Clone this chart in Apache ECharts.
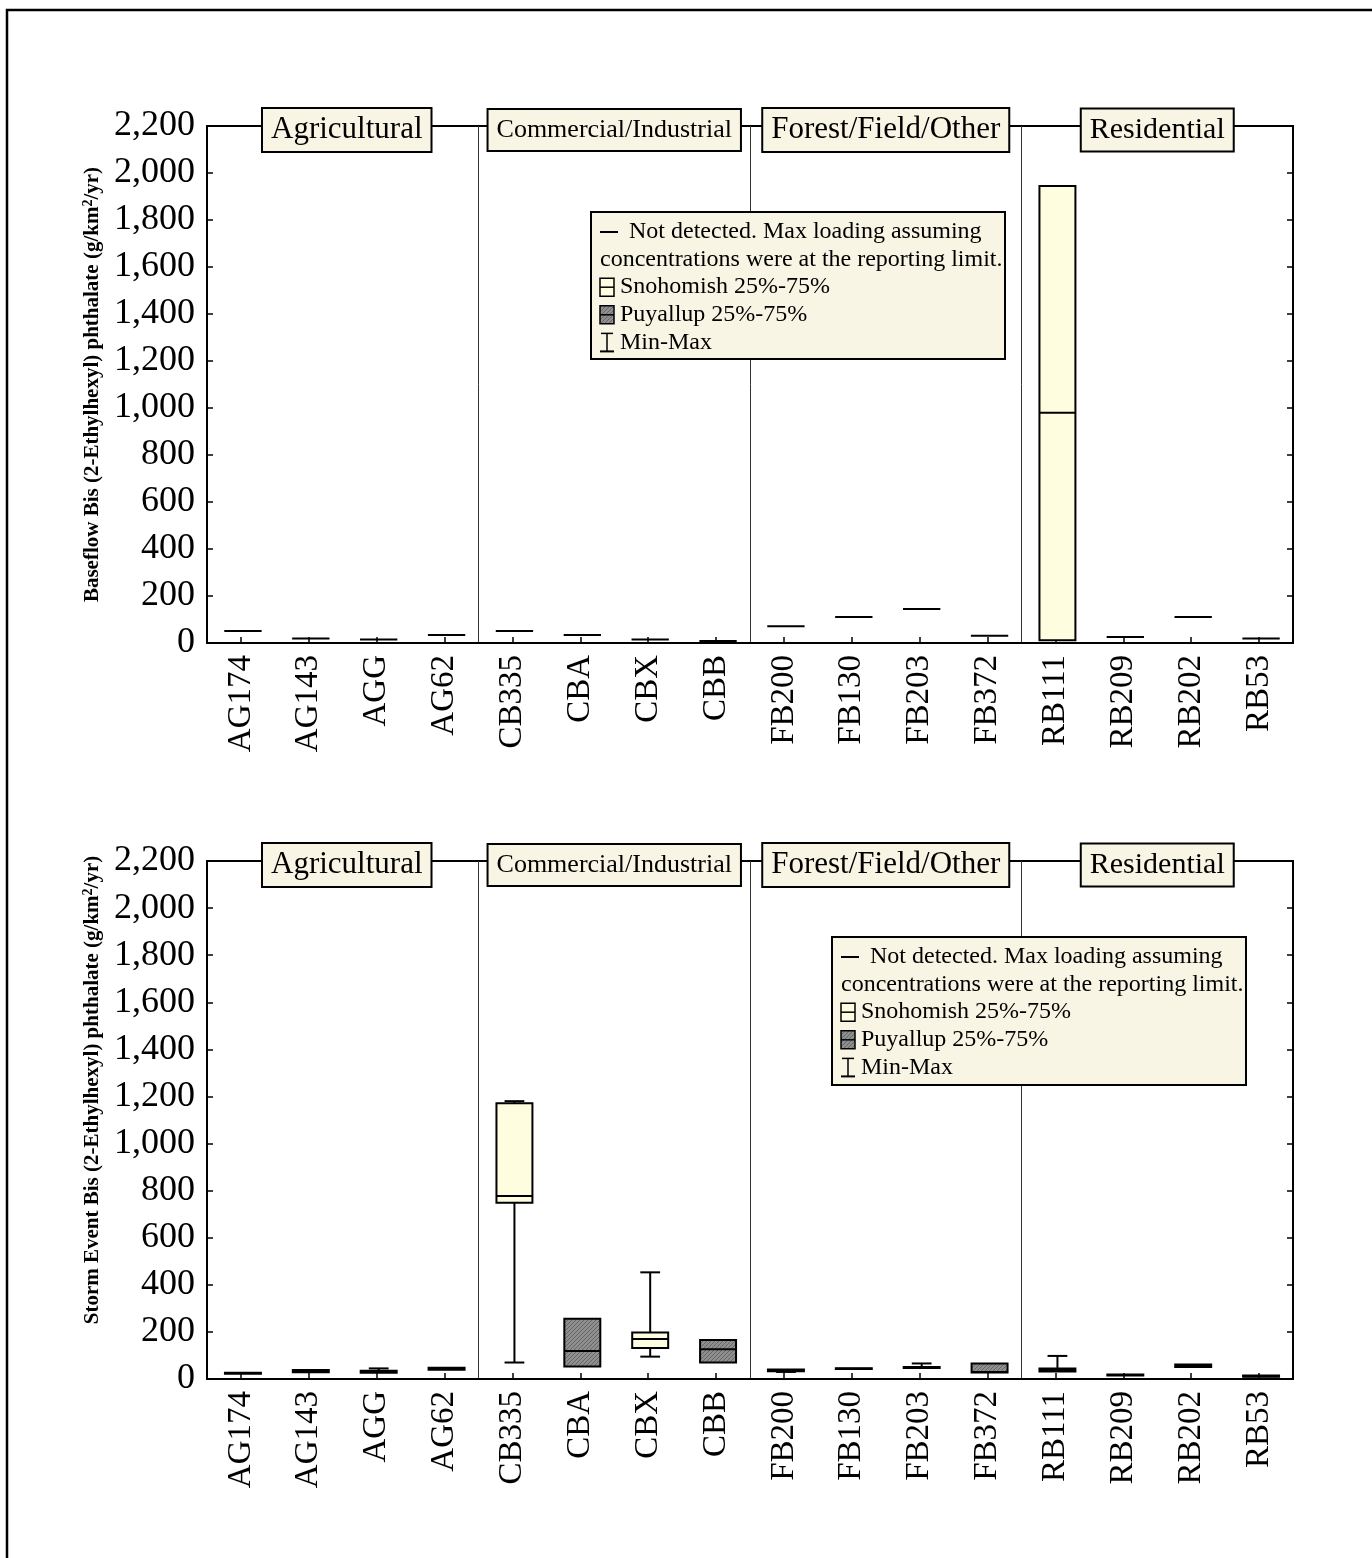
<!DOCTYPE html>
<html>
<head>
<meta charset="utf-8">
<script src="https://cdn.jsdelivr.net/npm/echarts@6/dist/echarts.min.js"></script>
<style>html,body{margin:0;padding:0;background:#fff}#c{width:1372px;height:1558px}</style>
</head>
<body>
<div id="c"></div>
<script>
// ---------- DATA ----------
const categories = ['AG174','AG143','AGG','AG62','CB335','CBA','CBX','CBB','FB200','FB130','FB203','FB372','RB111','RB209','RB202','RB53'];
const groups = ['Agricultural','Commercial/Industrial','Forest/Field/Other','Residential'];
const yTicks = [0,200,400,600,800,1000,1200,1400,1600,1800,2000,2200];

// Baseflow (top panel)
const baseNotDetected = [51,19,15,34,51,34,15,8,71,111,145,31,null,26,111,19];
const baseMin    = [null,null,null,null,null,null,null,null,null,null,null,null,12,null,null,null];
const baseQ1     = [null,null,null,null,null,null,null,null,null,null,null,null,12,null,null,null];
const baseMedian = [null,null,null,null,null,null,null,null,null,null,null,null,980,null,null,null];
const baseQ3     = [null,null,null,null,null,null,null,null,null,null,null,null,1945,null,null,null];
const baseMax    = [null,null,null,null,null,null,null,null,null,null,null,null,1945,null,null,null];
const baseBasin  = ['S','S','S','S','S','S','S','S','S','S','S','S','S','S','S','S'];

// Storm event (bottom panel)
const stormMin    = [22,28,27,38,70,53,95,70,30,42,45,28,30,15,50,9];
const stormQ1     = [22,29,27,39,749,53,132,70,33,42,47,28,32,15,51,10];
const stormMedian = [25,33,31,43,777,119,170,126,36,44,49,30,38,17,56,12];
const stormQ3     = [27,38,35,48,1171,256,198,166,40,46,51,66,45,19,62,15];
const stormMax    = [27,39,45,49,1180,256,453,166,40,46,66,66,98,19,62,15];
const stormBasin  = ['S','S','S','S','S','P','S','P','S','S','S','P','S','S','S','S'];

// ---------- LAYOUT ----------
const GL = 207, GW = 1086;
const TOP1 = 126, H1 = 517;
const TOP2 = 861, H2 = 518;
const SERIF = '"Liberation Serif", "Times New Roman", serif';
const SNO = '#FFFDE0';
const BEIGE = '#F8F5E4';

// hatched pattern for Puyallup
const pc = document.createElement('canvas');
pc.width = 4; pc.height = 4;
const pctx = pc.getContext('2d');
pctx.fillStyle = '#8f8f8f'; pctx.fillRect(0,0,4,4);
pctx.strokeStyle = '#666'; pctx.lineWidth = 1;
pctx.beginPath(); pctx.moveTo(0,4); pctx.lineTo(4,0); pctx.stroke();
pctx.beginPath(); pctx.moveTo(-1,1); pctx.lineTo(1,-1); pctx.stroke();
pctx.beginPath(); pctx.moveTo(3,5); pctx.lineTo(5,3); pctx.stroke();
const PUY = { image: pc, repeat: 'repeat' };

function boxData(mn,q1,md,q3,mx,basin){
  const out=[];
  for(let i=0;i<categories.length;i++){
    if(q1[i]==null) continue;
    out.push([i,mn[i],q1[i],md[i],q3[i],mx[i], basin[i]==='P'?1:0]);
  }
  return out;
}
function ndData(arr){
  const out=[];
  arr.forEach((v,i)=>{ if(v!=null) out.push([i,v]); });
  return out;
}
function renderBox(params, api){
  const i=api.value(0);
  const pMin=api.coord([i,api.value(1)]);
  const pQ1=api.coord([i,api.value(2)]);
  const pMd=api.coord([i,api.value(3)]);
  const pQ3=api.coord([i,api.value(4)]);
  const pMax=api.coord([i,api.value(5)]);
  const puy=api.value(6)===1;
  const w=api.size([1,0])[0]*0.53;
  const cw=w*0.55;
  const x=pQ1[0]+2;
  const ls={stroke:'#000',lineWidth:2};
  const ch=[];
  if(pMax[1]<pQ3[1]-0.5){
    ch.push({type:'line',shape:{x1:x,y1:pMax[1],x2:x,y2:pQ3[1]},style:ls});
    ch.push({type:'line',shape:{x1:x-cw/2,y1:pMax[1],x2:x+cw/2,y2:pMax[1]},style:ls});
  }
  if(pMin[1]>pQ1[1]+0.5){
    ch.push({type:'line',shape:{x1:x,y1:pQ1[1],x2:x,y2:pMin[1]},style:ls});
    ch.push({type:'line',shape:{x1:x-cw/2,y1:pMin[1],x2:x+cw/2,y2:pMin[1]},style:ls});
  }
  ch.push({type:'rect',shape:{x:x-w/2,y:pQ3[1],width:w,height:pQ1[1]-pQ3[1]},
    style:{fill:puy?PUY:SNO,stroke:'#000',lineWidth:2}});
  ch.push({type:'line',shape:{x1:x-w/2,y1:pMd[1],x2:x+w/2,y2:pMd[1]},style:ls});
  return {type:'group',children:ch};
}
function renderND(params, api){
  const p=api.coord([api.value(0),api.value(1)]);
  const w=api.size([1,0])[0]*0.55;
  const x=p[0]+2;
  return {type:'line',shape:{x1:x-w/2,y1:p[1],x2:x+w/2,y2:p[1]},style:{stroke:'#000',lineWidth:2}};
}

function xAxisFor(gi){
  return {
    type:'category', gridIndex:gi, data:categories, boundaryGap:true,
    axisLine:{show:true,lineStyle:{color:'#000',width:2}},
    axisTick:{show:true,inside:true,alignWithLabel:true,length:6,lineStyle:{color:'#000',width:1.5}},
    axisLabel:{rotate:90,fontFamily:SERIF,fontSize:33,color:'#000',margin:12,interval:0},
    splitLine:{show:true,interval:function(idx){return idx===4||idx===8||idx===12;},lineStyle:{color:'#333',width:1}}
  };
}
function yAxisFor(gi,name,shift){
  return {
    type:'value', gridIndex:gi, min:0, max:2200, interval:200,
    name:name, nameLocation:'middle', nameGap:103, nameRotate:90,
    nameTextStyle:{fontFamily:SERIF,fontWeight:'bold',fontSize:21,color:'#000',padding:[0,0,0,shift],
      rich:{a:{fontFamily:SERIF,fontWeight:'bold',fontSize:21,color:'#000'},
            s:{fontFamily:SERIF,fontWeight:'bold',fontSize:14,color:'#000',verticalAlign:'top',padding:[0,0,9,0]}}},
    axisLine:{show:true,lineStyle:{color:'#000',width:2}},
    axisTick:{show:true,inside:true,length:6,lineStyle:{color:'#000',width:1.5}},
    axisLabel:{fontFamily:SERIF,fontSize:36,color:'#000',margin:12,
      formatter:function(v){return yTicks.indexOf(v)>=0? v.toLocaleString('en-US'):'';}},
    splitLine:{show:false}
  };
}
function yRightFor(gi){
  return {
    type:'value', gridIndex:gi, min:0, max:2200, interval:200, position:'right',
    axisLine:{show:true,lineStyle:{color:'#000',width:2}},
    axisTick:{show:true,inside:true,length:6,lineStyle:{color:'#000',width:1.5}},
    axisLabel:{show:false}, splitLine:{show:false}
  };
}

// header boxes + legends
const groupW = GW/4;
const headerFont = [31,26,31,30];
function headers(top){
  return groups.map((g,k)=>({
    type:'text', z:100,
    x: GL + groupW*(k+0.5) + (k===0?4:0), y: top + 4,
    style:{text:g, fontFamily:SERIF, fontSize:headerFont[k], fill:'#000',
      align:'center', verticalAlign:'middle',
      backgroundColor:BEIGE, borderColor:'#000', borderWidth:2,
      padding: k===1 ? [8,8,6,8] : [6,8,5,8]}
  }));
}
function legend(x,y,w,h){
  const fs=24, lh=27.6, tx=x+38, ix=x+9;
  const t=(s,row,xx)=>({type:'text',z:101,x:xx,y:y+20+row*lh,
    style:{text:s,fontFamily:SERIF,fontSize:fs,fill:'#000',verticalAlign:'middle'}});
  const cy=r=>y+20+r*lh;
  const L=(x1,y1,x2,y2,lw)=>({type:'line',z:101,shape:{x1,y1,x2,y2},style:{stroke:'#000',lineWidth:lw}});
  return [
    {type:'rect',z:100,shape:{x:x,y:y,width:w,height:h},style:{fill:BEIGE,stroke:'#000',lineWidth:2}},
    L(ix,cy(0),ix+18,cy(0),2),
    t('Not detected. Max loading assuming',0,tx),
    t('concentrations were at the reporting limit.',1,x+9),
    {type:'rect',z:101,shape:{x:ix,y:cy(2)-9,width:14,height:18},style:{fill:SNO,stroke:'#000',lineWidth:1.5}},
    L(ix,cy(2),ix+14,cy(2),1.5),
    t('Snohomish 25%-75%',2,tx-9),
    {type:'rect',z:101,shape:{x:ix,y:cy(3)-9,width:14,height:18},style:{fill:PUY,stroke:'#000',lineWidth:1.5}},
    L(ix,cy(3),ix+14,cy(3),1.5),
    t('Puyallup 25%-75%',3,tx-9),
    L(ix+7,cy(4)-9,ix+7,cy(4)+9,1.5),
    L(ix+1,cy(4)-9,ix+13,cy(4)-9,1.5),
    L(ix,cy(4)+9,ix+14,cy(4)+9,2),
    t('Min-Max',4,tx-9)
  ];
}

const chart = echarts.init(document.getElementById('c'), null, {renderer:'canvas'});
const option = {
  backgroundColor:'#fff',
  animation:false,
  grid:[
    {left:GL,top:TOP1,width:GW,height:H1,show:true,borderColor:'#000',borderWidth:2,containLabel:false},
    {left:GL,top:TOP2,width:GW,height:H2,show:true,borderColor:'#000',borderWidth:2,containLabel:false}
  ],
  xAxis:[xAxisFor(0),xAxisFor(1)],
  yAxis:[
    yAxisFor(0,'{a|Baseflow Bis (2-Ethylhexyl) phthalate (g/km}{s|2}{a|/yr)}',0),
    yAxisFor(1,'{a|Storm Event Bis (2-Ethylhexyl) phthalate (g/km}{s|2}{a|/yr)}',60),
    yRightFor(0), yRightFor(1)
  ],
  series:[
    {type:'custom',xAxisIndex:0,yAxisIndex:0,renderItem:renderND,data:ndData(baseNotDetected),z:5},
    {type:'custom',xAxisIndex:0,yAxisIndex:0,renderItem:renderBox,data:boxData(baseMin,baseQ1,baseMedian,baseQ3,baseMax,baseBasin),z:5},
    {type:'custom',xAxisIndex:1,yAxisIndex:1,renderItem:renderBox,data:boxData(stormMin,stormQ1,stormMedian,stormQ3,stormMax,stormBasin),z:5}
  ],
  graphic:[
    {type:'rect',z:0,shape:{x:7,y:10,width:1420,height:1620},style:{fill:'none',stroke:'#000',lineWidth:2.5}},
    ...headers(TOP1),
    ...headers(TOP2),
    ...legend(591,212,414,147),
    ...legend(832,937,414,148)
  ]
};
chart.setOption(option);
</script>
</body>
</html>
